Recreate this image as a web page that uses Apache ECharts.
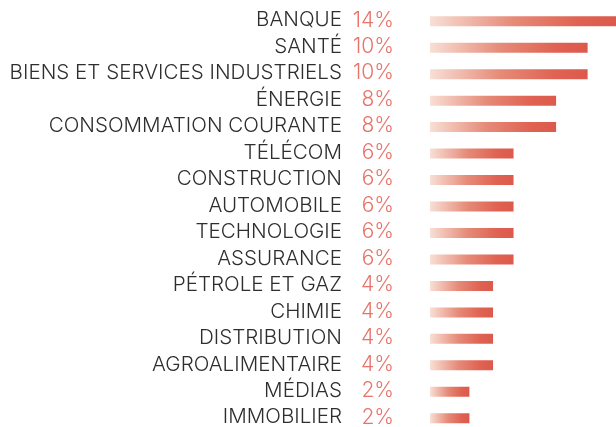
<!DOCTYPE html>
<html>
<head>
<meta charset="utf-8">
<script src="https://cdn.jsdelivr.net/npm/echarts@6/dist/echarts.min.js"></script>
<style>
  html, body { margin: 0; padding: 0; background: #fff; }
  #chart { width: 616px; height: 427px; }
</style>
</head>
<body>
<div id="chart"></div>
<script>
// secteurs, du plus gros au plus petit
var secteurs = ['BANQUE', 'SANTÉ', 'BIENS ET SERVICES INDUSTRIELS', 'ÉNERGIE',
    'CONSOMMATION COURANTE', 'TÉLÉCOM', 'CONSTRUCTION', 'AUTOMOBILE', 'TECHNOLOGIE',
    'ASSURANCE', 'PÉTROLE ET GAZ', 'CHIMIE', 'DISTRIBUTION', 'AGROALIMENTAIRE',
    'MÉDIAS', 'IMMOBILIER']
// pourcentages affichés (arrondis)
var pctLabels = [14, 10, 10, 8, 8, 6, 6, 6, 6, 6, 4, 4, 4, 4, 2, 2]
// longueur des barres
var poids = [14, 10, 10, 8, 8, 5.3, 5.3, 5.3, 5.3, 5.3, 4, 4, 4, 4, 2.5, 2.5]

function showChart(){
    var grad = new echarts.graphic.LinearGradient(0, 0, 1, 0, [
        { offset: 0, color: '#f8dfd5' },
        { offset: 0.45, color: '#e68a78' },
        { offset: 0.8, color: '#df6252' },
        { offset: 1, color: '#dc5a4b' }
    ])

    var option = {
        animation: false,
        grid: { left: 430, right: 0, top: 8, height: 423.5, outerBoundsMode: 'none' },
        xAxis: {
            type: 'value',
            min: 0,
            max: 11.8,
            show: false
        },
        yAxis: {
            type: 'category',
            inverse: true,
            data: secteurs,
            axisLine: { show: false },
            axisTick: { show: false },
            axisLabel: {
                margin: 36,
                padding: [0, 0, 2, 0],
                formatter: function (v, i) {
                    return '{n|' + v + '}{p|' + pctLabels[i] + '%}'
                },
                rich: {
                    n: {
                        fontFamily: 'Inter, Open Sans, sans-serif',
                        fontWeight: 300,
                        fontSize: 20.6,
                        color: '#2e2e2e'
                    },
                    p: {
                        fontFamily: 'Inter, Open Sans, sans-serif',
                        fontWeight: 300,
                        fontSize: 21,
                        color: '#e8736a',
                        width: 52,
                        align: 'right'
                    }
                }
            }
        },
        series: [
            {
                type: 'bar',
                data: poids,
                barWidth: 10,
                itemStyle: { color: grad }
            }
        ]
    }

    var myChart = echarts.init(document.getElementById('chart'))
    myChart.setOption(option)
}

showChart()
</script>
</body>
</html>
